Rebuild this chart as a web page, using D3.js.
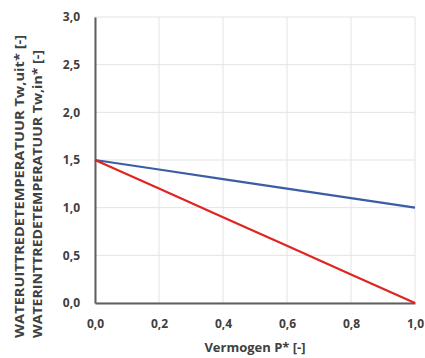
<!DOCTYPE html>
<html>
<head>
<meta charset="utf-8">
<script src="https://cdn.jsdelivr.net/npm/d3@7"></script>
<style>
  body { margin: 0; background: #fff; }
  text { font-family: "Open Sans", "Liberation Sans", sans-serif; font-weight: bold; fill: #404040; }
</style>
</head>
<body>
<div id="chart"></div>
<script>
// data
var vermogen = [0, 0.2, 0.4, 0.6, 0.8, 1.0];
var twUit = [1.5, 1.4, 1.3, 1.2, 1.1, 1.0];
var twIn = [1.5, 1.2, 0.9, 0.6, 0.3, 0.0];
var xTicks = [0, 0.2, 0.4, 0.6, 0.8, 1.0];
var yTicks = [0, 0.5, 1.0, 1.5, 2.0, 2.5, 3.0];

var width = 425, height = 358;
var margin = {top: 17, right: 10, bottom: 55, left: 95};

var svg = d3.select("#chart").append("svg")
    .attr("width", width)
    .attr("height", height);

var x = d3.scaleLinear().domain([0, 1]).range([margin.left, width - margin.right]);
var y = d3.scaleLinear().domain([0, 3]).range([height - margin.bottom, margin.top]);

var fmt = function (d) { return d3.format(".1f")(d).replace(".", ","); };

// gridlines
svg.append("g")
    .selectAll("line.h")
    .data(yTicks)
    .enter().append("line")
    .attr("x1", x(0)).attr("x2", x(1))
    .attr("y1", function (d) { return y(d); })
    .attr("y2", function (d) { return y(d); })
    .attr("stroke", "#e3e3e3").attr("stroke-width", 1);
svg.append("g")
    .selectAll("line.v")
    .data(xTicks)
    .enter().append("line")
    .attr("y1", y(0)).attr("y2", y(3))
    .attr("x1", function (d) { return x(d); })
    .attr("x2", function (d) { return x(d); })
    .attr("stroke", "#e3e3e3").attr("stroke-width", 1);

// axes
var xAxis = svg.append("g")
    .attr("transform", "translate(0," + y(0) + ")")
    .call(d3.axisBottom(x).tickValues(xTicks).tickFormat(fmt).tickSize(0).tickPadding(16));
var yAxis = svg.append("g")
    .attr("transform", "translate(" + x(0) + ",0)")
    .call(d3.axisLeft(y).tickValues(yTicks).tickFormat(fmt).tickSize(0).tickPadding(15));
[xAxis, yAxis].forEach(function (a) {
    a.select(".domain").attr("stroke", "#5f5f5f").attr("stroke-width", 2);
    a.selectAll("text")
        .style("font-size", "12px")
        .style("font-family", "'Open Sans', sans-serif")
        .attr("fill", "#404040");
});

// lines
var line = function (vals) {
    return d3.line()
        .x(function (d, i) { return x(vermogen[i]); })
        .y(function (d) { return y(d); })(vals);
};
svg.append("path").attr("d", line(twUit))
    .attr("fill", "none").attr("stroke", "#3a5da6").attr("stroke-width", 2.2);
svg.append("path").attr("d", line(twIn))
    .attr("fill", "none").attr("stroke", "#e0241f").attr("stroke-width", 2.2);

// titles
svg.append("text")
    .attr("x", (x(0) + x(1)) / 2)
    .attr("y", 352)
    .attr("text-anchor", "middle")
    .style("font-size", "13px")
    .text("Vermogen P* [-]");

svg.append("text")
    .attr("transform", "translate(24,338) rotate(-90)")
    .style("font-size", "13px")
    .attr("textLength", 303)
    .attr("lengthAdjust", "spacingAndGlyphs")
    .text("WATERUITTREDETEMPERATUUR Tw,uit* [-]");
svg.append("text")
    .attr("transform", "translate(42,338) rotate(-90)")
    .style("font-size", "13px")
    .attr("textLength", 288)
    .attr("lengthAdjust", "spacingAndGlyphs")
    .text("WATERINTTREDETEMPERATUUR Tw,in* [-]");
</script>
</body>
</html>
